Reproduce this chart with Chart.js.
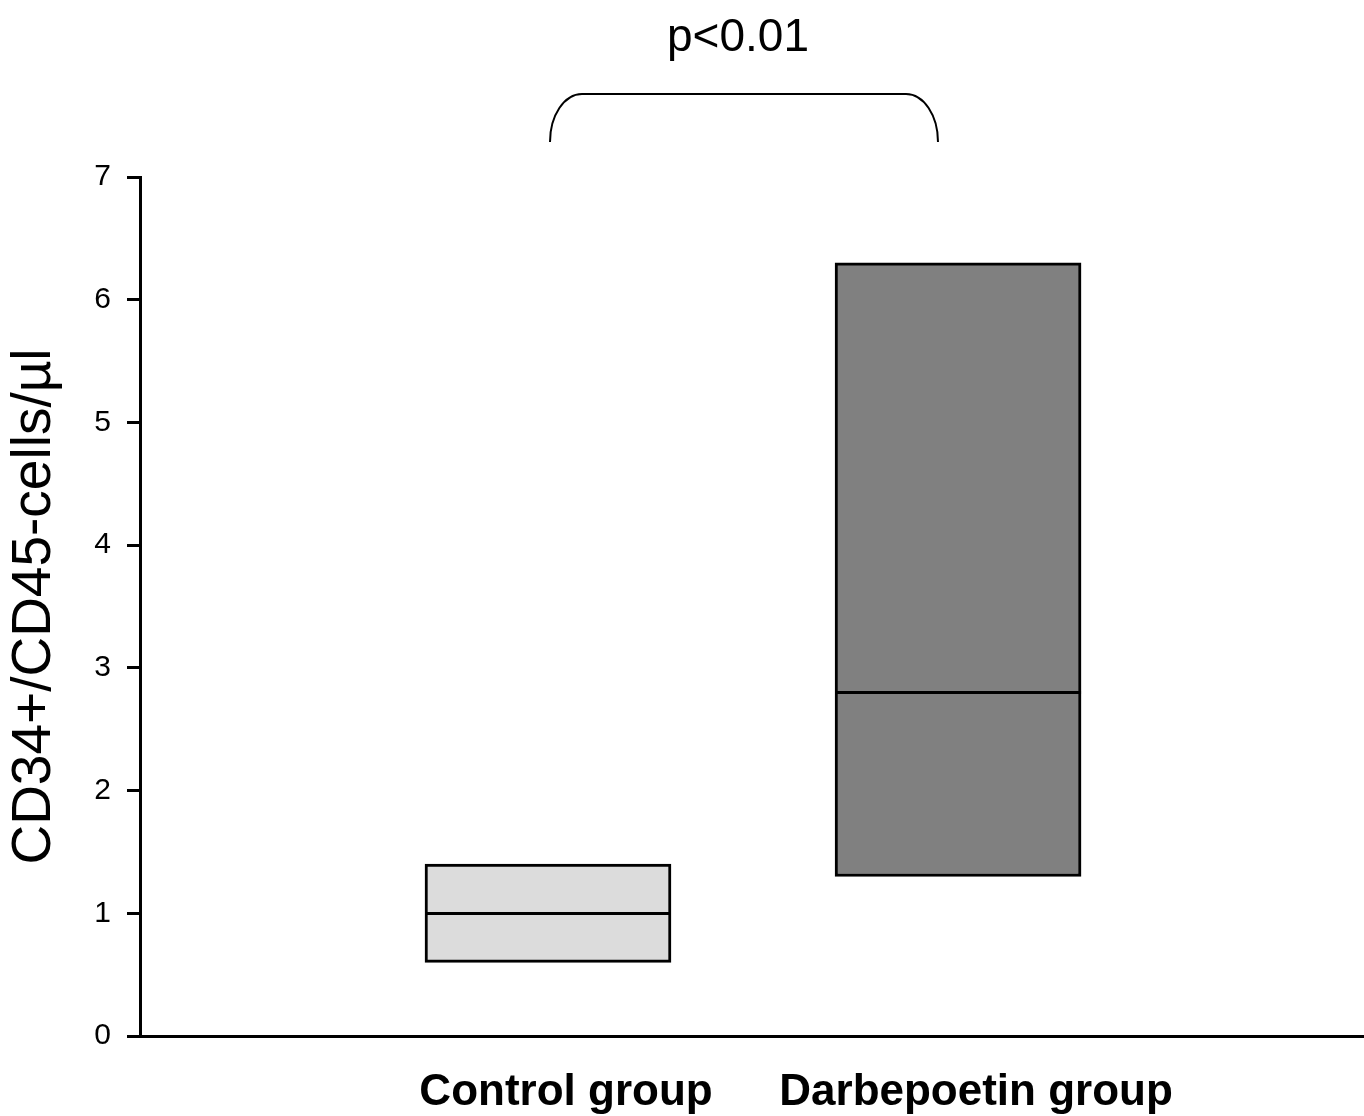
<!DOCTYPE html>
<html>
<head>
<meta charset="utf-8">
<script src="https://cdn.jsdelivr.net/npm/chart.js@4/dist/chart.umd.min.js"></script>
<style>
  html, body { margin: 0; padding: 0; background: #fff; }
  #wrap { width: 1364px; height: 1116px; }
</style>
</head>
<body>
<div id="wrap"><canvas id="grafico" width="1364" height="1116"></canvas></div>
<script>
const groups = ['Control group', 'Darbepoetin group'];
const lowValues = [0.6, 1.3];
const highValues = [1.4, 6.3];
const medians = [1.0, 2.8];
const yTicks = [0, 1, 2, 3, 4, 5, 6, 7];
const groupColors = ['#dcdcdc', '#808080'];
const pText = 'p<0.01';

const fontFamily = '"Liberation Sans", Arial, sans-serif';

// medianas + chave com o valor de p
const extras = {
  id: 'extras',
  afterDatasetsDraw(chart) {
    const ctx = chart.ctx;
    const y = chart.scales.y;
    const meta = chart.getDatasetMeta(0);
    ctx.save();
    ctx.strokeStyle = '#000';
    ctx.lineWidth = 3;
    medians.forEach((m, i) => {
      const bar = meta.data[i];
      const half = bar.width / 2;
      const py = Math.round(y.getPixelForValue(m)) + 0.5;
      ctx.beginPath();
      ctx.moveTo(bar.x - half, py);
      ctx.lineTo(bar.x + half, py);
      ctx.stroke();
    });

    // chave
    ctx.lineWidth = 2;
    ctx.beginPath();
    ctx.ellipse(582, 142, 32, 48, 0, Math.PI, 1.5 * Math.PI);
    ctx.lineTo(906, 94);
    ctx.ellipse(906, 142, 32, 48, 0, 1.5 * Math.PI, 2 * Math.PI);
    ctx.stroke();

    ctx.fillStyle = '#000';
    ctx.font = '46px ' + fontFamily;
    ctx.textAlign = 'center';
    ctx.textBaseline = 'alphabetic';
    ctx.fillText(pText, 738, 51);
    ctx.restore();
  }
};

const ctx = document.getElementById('grafico').getContext('2d');
new Chart(ctx, {
  type: 'bar',
  data: {
    datasets: [{
      data: groups.map((g, i) => ({ x: i, y: [lowValues[i], highValues[i]] })),
      backgroundColor: groupColors,
      borderColor: '#000',
      borderWidth: 3,
      borderSkipped: false,
      barThickness: 246
    }]
  },
  options: {
    responsive: false,
    animation: false,
    layout: { padding: { top: 177, left: 0, right: 0, bottom: 0 } },
    plugins: { legend: { display: false }, tooltip: { enabled: false } },
    scales: {
      x: {
        type: 'linear',
        offset: false,
        min: -0.995,
        max: 1.99,
        afterBuildTicks: s => { s.ticks = groups.map((g, i) => ({ value: i })); },
        afterFit: s => { s.height = 80; },
        grid: { display: false, offset: false },
        border: { display: true, color: '#000', width: 3 },
        ticks: {
          callback: v => groups[v],
          color: '#000',
          font: { family: fontFamily, size: 44, weight: 'bold' },
          labelOffset: 18,
          padding: 22,
          maxRotation: 0,
          autoSkip: false
        }
      },
      y: {
        min: 0,
        max: 7,
        afterBuildTicks: s => { s.ticks = yTicks.map(v => ({ value: v })); },
        afterFit: s => { s.width = 140; },
        grid: {
          drawOnChartArea: false,
          drawTicks: true,
          tickLength: 13,
          lineWidth: 3,
          color: '#000'
        },
        border: { display: true, color: '#000', width: 3 },
        ticks: {
          color: '#000',
          font: { family: fontFamily, size: 30 },
          padding: 16
        },
        title: {
          display: true,
          text: 'CD34+/CD45-cells/µl',
          color: '#000',
          font: { family: fontFamily, size: 55 },
          padding: { top: 2, bottom: 0 }
        }
      }
    }
  },
  plugins: [extras]
});
</script>
</body>
</html>
